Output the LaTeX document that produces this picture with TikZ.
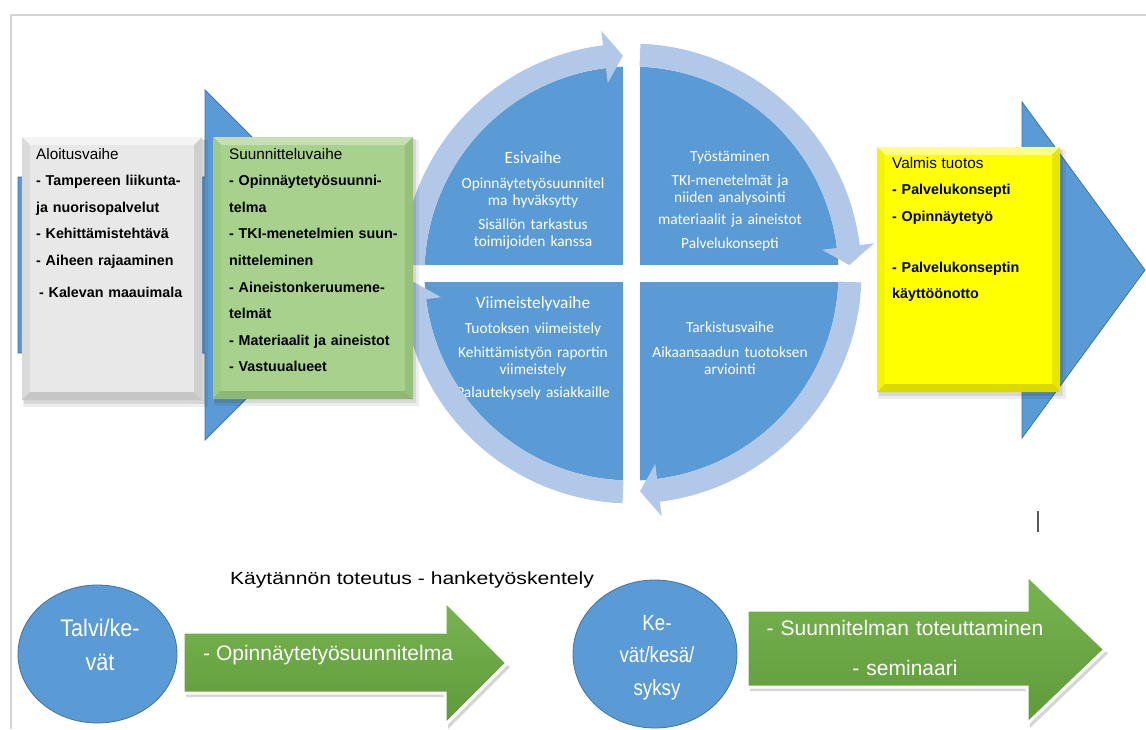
\documentclass[tikz,border=0pt]{standalone}
\usepackage{fontspec}
\usepackage{graphicx}
\setmainfont{Liberation Sans}
\newfontfamily\calib{Carlito}
\usetikzlibrary{shapes.geometric}

\definecolor{blueA}{HTML}{5B9BD5}
\definecolor{blueE}{HTML}{41719C}
\definecolor{ringc}{HTML}{B1C8E8}
\definecolor{framec}{HTML}{D4D4D4}
\definecolor{gyF}{HTML}{E8E8E8}
\definecolor{gyT}{HTML}{F4F4F4}
\definecolor{gyL}{HTML}{DADADA}
\definecolor{gyR}{HTML}{CFCFCF}
\definecolor{gyB}{HTML}{C6C6C6}
\definecolor{gnF}{HTML}{A9D18E}
\definecolor{gnT}{HTML}{C5DFB3}
\definecolor{gnL}{HTML}{A0CB84}
\definecolor{gnR}{HTML}{97C07B}
\definecolor{gnB}{HTML}{8FB874}
\definecolor{ywF}{HTML}{FFFF00}
\definecolor{ywT}{HTML}{FFFF85}
\definecolor{ywL}{HTML}{F5F500}
\definecolor{ywR}{HTML}{E6E600}
\definecolor{ywB}{HTML}{DADA00}
\definecolor{arT}{HTML}{78B550}
\definecolor{arM}{HTML}{6EAB45}
\definecolor{arB}{HTML}{5E9A3A}

% bevelled box: x1 y1 x2 y2 colour-prefix
\newcommand{\bevbox}[5]{%
  \fill[black,opacity=0.07] (#1+1,#2+3) rectangle (#3+6,#4+7);
  \fill[black,opacity=0.09] (#1+2,#2+2) rectangle (#3+3,#4+4);
  \fill[#5T] (#1,#2) -- (#3,#2) -- (#3-8,#2+8) -- (#1+8,#2+8) -- cycle;
  \fill[#5L] (#1,#2) -- (#1+8,#2+8) -- (#1+8,#4-8) -- (#1,#4) -- cycle;
  \fill[#5R] (#3,#2) -- (#3,#4) -- (#3-8,#4-8) -- (#3-8,#2+8) -- cycle;
  \fill[#5B] (#1,#4) -- (#3,#4) -- (#3-8,#4-8) -- (#1+8,#4-8) -- cycle;
  \fill[#5F] (#1+8,#2+8) rectangle (#3-8,#4-8);
}
% green block arrow: x0 top bottom xbase headtop headbottom xtip
\newcommand{\garrow}[7]{%
  \fill[black,opacity=0.16,xshift=3pt,yshift=-4pt] (#1,#2) -- (#4,#2) -- (#4,#5) -- (#7,{(#5+#6)/2}) -- (#4,#6) -- (#4,#3) -- (#1,#3) -- cycle;
  \path[top color=arT, middle color=arM, bottom color=arB, draw=white, line width=3pt, line join=miter]
    (#1,#2) -- (#4,#2) -- (#4,#5) -- (#7,{(#5+#6)/2}) -- (#4,#6) -- (#4,#3) -- (#1,#3) -- cycle;
}

\begin{document}
\begin{tikzpicture}[x=1pt,y=-1pt,
  ctext/.style={text=white, font=\calib\fontsize{15.4}{17}\selectfont, align=center, text width=200pt, inner sep=0pt, anchor=base},
  ctitle/.style={ctext, font=\calib\fontsize{17.3}{20}\selectfont},
  btext/.style={font=\fontsize{14.3}{26.6}\selectfont\bfseries, align=left, text width=180pt, inner sep=0pt, anchor=base west},
  ellip/.style={ellipse, fill=blueA, draw=blueE, line width=0.8pt, inner sep=0pt},
  etext/.style={text=white, align=center, text width=150pt, inner sep=0pt, anchor=base},
  atext/.style={text=white, font=\fontsize{21}{40}\selectfont, inner sep=0pt},
  bigarrow/.style={fill=blueA, draw=blueE, line width=0.8pt}
]
\useasboundingbox (0,0) rectangle (1146,729);
\fill[white] (0,0) rectangle (1146,729);

% frame
\draw[framec, line width=1.5pt] (11,729) -- (11,15) -- (1146,15);

% big blue arrows
\path[bigarrow] (18,177) -- (205,177) -- (205,90) -- (380,265) -- (205,440) -- (205,353) -- (18,353) -- cycle;
\path[bigarrow] (900,180) -- (1022,180) -- (1022,102) -- (1145,270) -- (1022,438) -- (1022,360) -- (900,360) -- cycle;

% circle quadrants
\node[circle, fill=blueA, minimum size=414pt, inner sep=0pt] (disk) at (631.5,273.5) {};
\fill[white] (623,64) rectangle (640,483);
\fill[white] (422,265) rectangle (841,282);

% circle texts
\node[ctitle] (esi) at (533,163) {Esivaihe};
\node[ctext] (esi1) at (533,188) {Opinnäytetyösuunnitel\\ma hyväksytty};
\node[ctext] (esi2) at (533,229) {Sisällön tarkastus\\toimijoiden kanssa};
\node[ctext] (tyo) at (730,161) {Työstäminen};
\node[ctext] (tyo1) at (730,185) {TKI-menetelmät ja\\niiden analysointi};
\node[ctext] (tyo2) at (730,224) {materiaalit ja aineistot};
\node[ctext] (tyo3) at (730,248) {Palvelukonsepti};
\node[ctitle] (vii) at (533,308.5) {Viimeistelyvaihe};
\node[ctext] (vii1) at (533,333) {Tuotoksen viimeistely};
\node[ctext] (vii2) at (533,357) {Kehittämistyön raportin\\viimeistely};
\node[ctext] (vii3) at (533,397) {Palautekysely asiakkaille};
\node[ctext] (tar) at (730,332) {Tarkistusvaihe};
\node[ctext] (tar1) at (730,357) {Aikaansaadun tuotoksen\\arviointi};

% ring of curved arrows
\foreach \k in {0,1,2,3}{
  \pgfmathsetmacro{\angS}{182.23+90*\k}
  \pgfmathsetmacro{\angB}{262.9+90*\k}
  \pgfmathsetmacro{\angT}{267.77+90*\k}
  \fill[ringc] plot[domain=\angS:\angB, samples=40] ({631.5+230*cos(\x)},{273.5+230*sin(\x)})
    -- ({631.5+244.5*cos(\angB)},{273.5+244.5*sin(\angB)})
    -- ({631.5+218*cos(\angT)},{273.5+218*sin(\angT)})
    -- ({631.5+192*cos(\angB)},{273.5+192*sin(\angB)})
    -- plot[domain=\angB:\angS, samples=40] ({631.5+207*cos(\x)},{273.5+207*sin(\x)}) -- cycle;
}

% bevelled boxes
\bevbox{22}{137}{202}{400}{gy}
\bevbox{213}{137}{413}{399}{gn}
\bevbox{877}{147}{1060}{392}{yw}

\node[btext] (alo) at (36,159) {{\mdseries\fontsize{15.3}{26.3}\selectfont Aloitusvaihe}\\- Tampereen liikunta-\\ja nuorisopalvelut\\- Kehittämistehtävä\\- Aiheen rajaaminen\\[5.5pt]\hspace*{3pt}- Kalevan maauimala};
\node[btext] (suu) at (229,159) {{\mdseries\fontsize{15.3}{26.6}\selectfont Suunnitteluvaihe}\\- Opinnäytetyösuunni-\\telma\\- TKI-menetelmien suun-\\nitteleminen\\- Aineistonkeruumene-\\telmät\\- Materiaalit ja aineistot\\- Vastuualueet};
\node[btext] (val) at (892,168) {{\mdseries\fontsize{15.3}{26.6}\selectfont Valmis tuotos}\\- Palvelukonsepti\\- Opinnäytetyö\\[24.4pt]- Palvelukonseptin\\käyttöönotto};

% bottom row
\node[font=\fontsize{17.6}{20}\selectfont, anchor=base, inner sep=0pt] (kay) at (412,584) {\scalebox{1.2}[1]{Käytännön toteutus - hanketyöskentely}};

\node[ellip, minimum width=159pt, minimum height=138pt] (e1) at (97.5,654) {};
\node[etext, font=\fontsize{24}{34}\selectfont] (e1t) at (100,636) {\scalebox{0.9}[1]{Talvi/ke-}\\\scalebox{0.9}[1]{vät}};

\garrow{183}{632}{693}{445}{601}{725}{507}
\node[atext, anchor=base west] (a1t) at (203,660) {- Opinnäytetyösuunnitelma};

\node[ellip, minimum width=164pt, minimum height=148pt] (e2) at (655,654) {};
\node[etext, font=\fontsize{22}{32.5}\selectfont] (e2t) at (657,630) {\scalebox{0.85}[1]{Ke-}\\\scalebox{0.85}[1]{vät/kesä/}\\\scalebox{0.85}[1]{syksy}};

\garrow{747}{610}{687}{1027}{575}{724}{1105}
\node[atext, align=center, text width=300pt, anchor=base] (a2t) at (905,635.5) {- Suunnitelman toteuttaminen\\- seminaari};

% stray mark
\draw[line width=2pt, color=black!65] (1038,511) -- (1038,532);
\end{tikzpicture}
\end{document}
